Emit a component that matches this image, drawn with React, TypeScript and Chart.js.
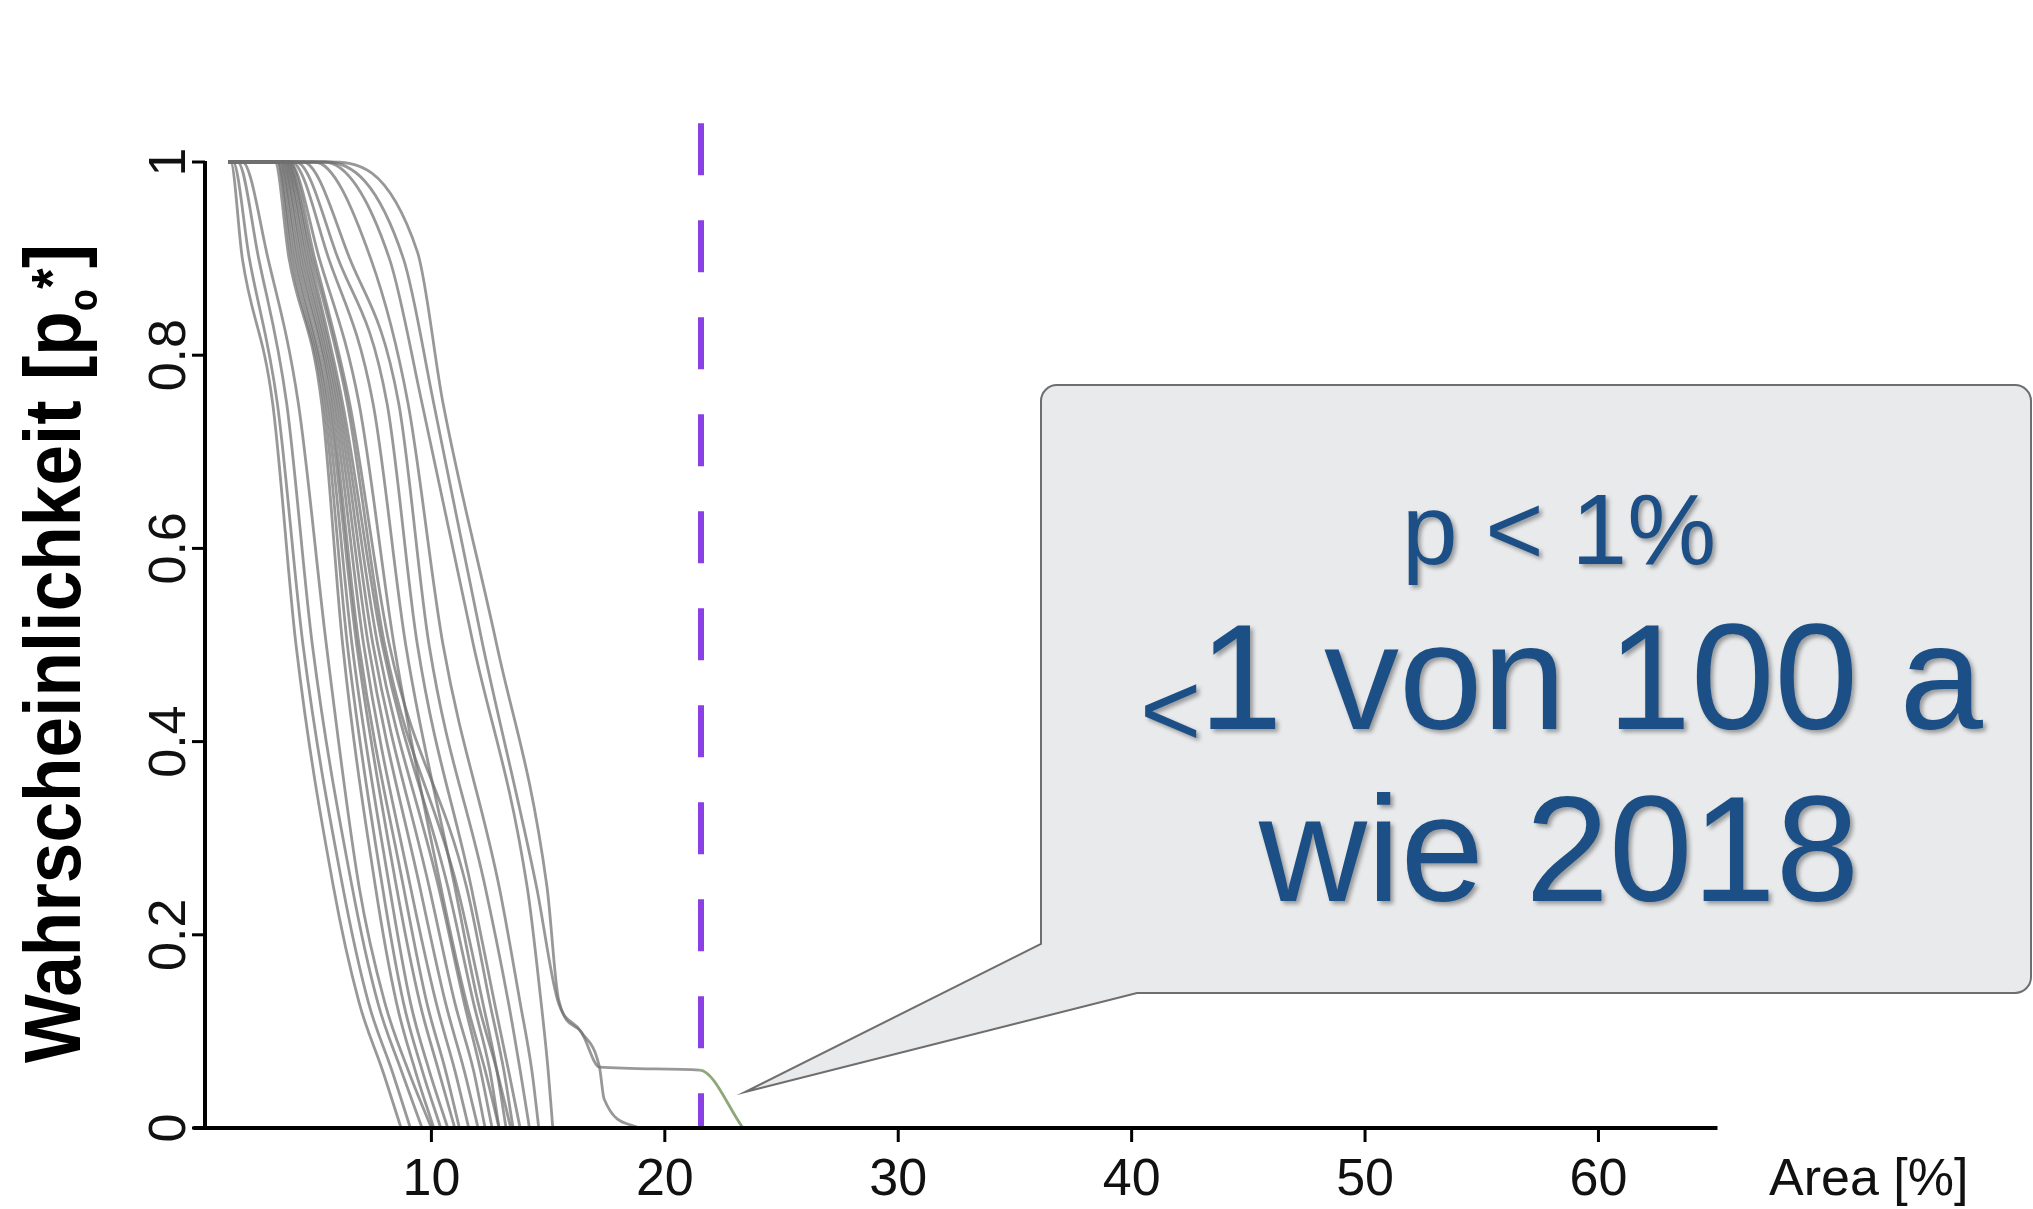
import React, { useEffect, useRef } from 'react';
import { Chart, registerables } from 'chart.js';

Chart.register(...registerables);

const W = 2033;
const H = 1209;

// axis ranges and ticks
const xMin = 0.3;
const xMax = 65.1;
const yMin = 0;
const yMax = 1.05;
const xTickValues = [10, 20, 30, 40, 50, 60];
const yTickValues = [0, 0.2, 0.4, 0.6, 0.8, 1];
const yTickLabels = ['0', '0.2', '0.4', '0.6', '0.8', '1'];
const xAxisTitle = 'Area [%]';
const yAxisTitleMain = 'Wahrscheinlichkeit [p';
const yAxisTitleSub = 'o';
const yAxisTitleSup = '*';
const yAxisTitleEnd = ']';

// probability levels shared by most curves
const yLevels = [1, 1, 0.9, 0.75, 0.5, 0.25, 0.13, 0.06, 0];
// area (%) at which each curve reaches the levels above
const curve01 = [1.3, 1.4, 1.9, 3.2, 4.2, 5.8, 6.9, 7.9, 8.7];
const curve02 = [1.3, 1.5, 2.2, 3.4, 4.5, 6.2, 7.3, 8.3, 9.1];
const curve03 = [1.3, 1.7, 2.6, 3.8, 4.9, 6.6, 7.7, 8.7, 9.6];
const curve04 = [1.3, 1.9, 3.0, 4.3, 5.5, 6.9, 8.0, 9.0, 10.0];
const curve05 = [1.3, 3.3, 3.9, 5.3, 6.2, 7.6, 8.5, 9.3, 10.1];
const curve06 = [1.3, 3.4, 4.0, 5.4, 6.4, 7.9, 8.8, 9.6, 10.4];
const curve07 = [1.3, 3.4, 4.1, 5.5, 6.6, 8.2, 9.1, 9.9, 10.7];
const curve08 = [1.3, 3.5, 4.2, 5.6, 6.8, 8.5, 9.5, 10.3, 11.0];
const curve09 = [1.3, 3.5, 4.3, 5.7, 6.9, 8.8, 9.8, 10.6, 11.2];
const curve10 = [1.3, 3.6, 4.4, 5.8, 7.1, 9.1, 10.2, 11.0, 11.6];
const curve11 = [1.3, 3.6, 4.5, 5.9, 7.3, 9.5, 10.6, 11.4, 12.0];
const curve12 = [1.3, 3.7, 4.6, 6.0, 7.5, 9.9, 11.0, 11.8, 12.3];
const curve13 = [1.3, 3.7, 4.7, 6.1, 7.7, 10.3, 11.4, 12.1, 12.6];
const curve14 = [1.3, 3.8, 4.8, 6.2, 7.9, 10.7, 11.8, 12.5, 12.9];
const curve15 = [1.3, 3.8, 4.9, 6.4, 8.0, 11.1, 12.2, 12.8, 13.2];
const curve16 = [1.3, 3.9, 5.0, 6.5, 8.2, 11.5, 12.5, 13.1, 13.5];
const curve17 = [1.3, 3.9, 5.2, 6.9, 8.4, 10.4, 11.5, 12.3, 12.9];
const curve18 = [1.3, 4.0, 5.6, 7.5, 8.9, 11.0, 12.0, 12.8, 13.4];
const curve19 = [1.3, 4.2, 6.0, 8.1, 9.4, 11.7, 12.7, 13.3, 13.8];
const curve20 = [1.3, 4.5, 6.5, 8.6, 9.9, 12.3, 13.3, 13.8, 14.2];
const curve21 = [1.3, 5.0, 7.4, 9.0, 10.5, 12.9, 13.8, 14.3, 14.6];
const curve22 = [1.3, 5.4, 8.2, 9.6, 11.8, 14.1, 14.7, 15.0, 15.2];
const regularCurves = [
  curve01, curve02, curve03, curve04, curve05, curve06, curve07, curve08,
  curve09, curve10, curve11, curve12, curve13, curve14, curve15, curve16,
  curve17, curve18, curve19, curve20, curve21, curve22,
];

// curve with a kink, ending near 19 %
const kinkX = [1.3, 5.5, 8.8, 10.1, 12.2, 14.5, 15.4, 16.4, 17.2, 17.4, 18.9];
const kinkY = [1, 1, 0.9, 0.75, 0.5, 0.25, 0.133, 0.1, 0.063, 0.03, 0];
// curve with the plateau, ending near 23 %
const plateauX = [1.3, 5.5, 9.4, 10.5, 12.8, 14.95, 15.45, 16.4, 17.2, 21.5, 23.35];
const plateauY = [1, 1, 0.907, 0.75, 0.5, 0.25, 0.133, 0.1, 0.063, 0.06, 0];

// 2018 threshold (dashed line)
const thresholdX = 21.55;
const thresholdY = [1.04, 0];

// callout text
const calloutLine1 = 'p < 1%';
const calloutLine2Prefix = '<';
const calloutLine2 = '1 von 100 a';
const calloutLine3 = 'wie 2018';

const GRAY = 'rgba(112,112,112,0.72)';
const FONT = '"Liberation Sans", Arial, Helvetica, sans-serif';

const overlayPlugin = {
  id: 'overlay',
  afterDatasetsDraw(chart: any) {
    const ctx: CanvasRenderingContext2D = chart.ctx;
    const xs = chart.scales.x;
    const ys = chart.scales.y;
    const y0 = ys.getPixelForValue(0);
    const y1 = ys.getPixelForValue(1);
    const xl = xs.getPixelForValue(xMin);

    ctx.save();
    // axis lines
    ctx.strokeStyle = '#000';
    ctx.lineCap = 'butt';
    ctx.lineWidth = 4;
    ctx.beginPath();
    ctx.moveTo(xs.getPixelForValue(-0.2), y0);
    ctx.lineTo(xs.getPixelForValue(xMax), y0);
    ctx.stroke();
    ctx.beginPath();
    ctx.moveTo(xl, y1 - 1);
    ctx.lineTo(xl, y0);
    ctx.stroke();

    // ticks
    ctx.lineWidth = 3;
    for (const v of xTickValues) {
      const px = xs.getPixelForValue(v);
      ctx.beginPath();
      ctx.moveTo(px, y0);
      ctx.lineTo(px, y0 + 14);
      ctx.stroke();
    }
    for (const v of yTickValues) {
      const py = ys.getPixelForValue(v);
      ctx.beginPath();
      ctx.moveTo(xl - 13, py);
      ctx.lineTo(xl, py);
      ctx.stroke();
    }

    // tick labels
    ctx.fillStyle = '#111';
    ctx.font = `52px ${FONT}`;
    ctx.textAlign = 'center';
    ctx.textBaseline = 'alphabetic';
    for (const v of xTickValues) {
      ctx.fillText(String(v), xs.getPixelForValue(v), 1195);
    }
    yTickValues.forEach((v, i) => {
      const py = ys.getPixelForValue(v);
      ctx.save();
      ctx.translate(185, py);
      ctx.rotate(-Math.PI / 2);
      ctx.fillText(yTickLabels[i], 0, 0);
      ctx.restore();
    });
    ctx.textAlign = 'left';
    ctx.fillText(xAxisTitle, 1769, 1195);

    // y-axis title with sub/superscript
    const base = 80;
    const parts = [
      { t: yAxisTitleMain, s: 1, dy: 0 },
      { t: yAxisTitleSub, s: 0.5, dy: 17 },
      { t: yAxisTitleSup, s: 0.72, dy: -8 },
      { t: yAxisTitleEnd, s: 1, dy: 0 },
    ];
    let total = 0;
    const widths: number[] = [];
    for (const p of parts) {
      ctx.font = `bold ${Math.round(base * p.s)}px ${FONT}`;
      const w = ctx.measureText(p.t).width;
      widths.push(w);
      total += w;
    }
    const k = 819 / total;
    ctx.save();
    ctx.translate(80, 1063);
    ctx.rotate(-Math.PI / 2);
    ctx.scale(k, 1);
    ctx.fillStyle = '#000';
    let cx = 0;
    parts.forEach((p, i) => {
      ctx.font = `bold ${Math.round(base * p.s)}px ${FONT}`;
      ctx.fillText(p.t, cx, p.dy);
      cx += widths[i];
    });
    ctx.restore();

    // callout bubble
    const L = 1041, T = 385, R = 2031, B = 993, r = 16;
    ctx.beginPath();
    ctx.moveTo(L + r, T);
    ctx.lineTo(R - r, T);
    ctx.arcTo(R, T, R, T + r, r);
    ctx.lineTo(R, B - r);
    ctx.arcTo(R, B, R - r, B, r);
    ctx.lineTo(1137, B);
    ctx.lineTo(745, 1092);
    ctx.lineTo(L, 944);
    ctx.lineTo(L, T + r);
    ctx.arcTo(L, T, L + r, T, r);
    ctx.closePath();
    ctx.fillStyle = '#e9eaec';
    ctx.fill();
    ctx.strokeStyle = '#6e6e6e';
    ctx.lineWidth = 2;
    ctx.stroke();

    ctx.shadowColor = 'rgba(0,0,0,0.35)';
    ctx.shadowOffsetX = 3;
    ctx.shadowOffsetY = 3;
    ctx.shadowBlur = 4;
    ctx.fillStyle = '#1b4f86';
    ctx.textBaseline = 'alphabetic';
    ctx.font = `100px ${FONT}`;
    ctx.textAlign = 'center';
    ctx.fillText(calloutLine1, 1559, 564);
    ctx.textAlign = 'left';
    ctx.font = `105px ${FONT}`;
    ctx.fillText(calloutLine2Prefix, 1140, 746);
    ctx.font = `150px ${FONT}`;
    ctx.fillText(calloutLine2, 1199, 729);
    ctx.textAlign = 'center';
    ctx.fillText(calloutLine3, 1559, 901);
    ctx.restore();
  },
};

export default function App() {
  const ref = useRef<HTMLCanvasElement | null>(null);

  useEffect(() => {
    const canvas = ref.current;
    if (!canvas) return;

    const lineStyle = {
      borderColor: GRAY,
      borderWidth: 2.8,
      pointRadius: 0,
      cubicInterpolationMode: 'monotone',
      fill: false,
    };
    const curveDatasets: any[] = regularCurves.map((xsArr) => ({
      ...lineStyle,
      data: xsArr.map((x, i) => ({ x, y: yLevels[i] })),
    }));
    curveDatasets.push({
      ...lineStyle,
      data: kinkX.map((x, i) => ({ x, y: kinkY[i] })),
    });
    curveDatasets.push({
      ...lineStyle,
      data: plateauX.map((x, i) => ({ x, y: plateauY[i] })),
      segment: {
        borderColor: (c: any) => (c.p0.parsed.x >= 21.4 ? 'rgba(130,158,105,0.9)' : undefined),
      },
    });

    const thresholdDataset = {
      data: thresholdY.map((y) => ({ x: thresholdX, y })),
      borderColor: '#8b40e6',
      borderWidth: 6,
      borderDash: [52, 45],
      pointRadius: 0,
      tension: 0,
      fill: false,
      order: -1,
    };

    const chart = new Chart(canvas, {
      type: 'line',
      data: { datasets: [thresholdDataset, ...curveDatasets] },
      options: {
        responsive: false,
        animation: false,
        events: [],
        layout: { padding: { left: 205, right: W - 1717.5, top: 113.7, bottom: H - 1128 } },
        plugins: { legend: { display: false }, tooltip: { enabled: false }, title: { display: false } },
        scales: {
          x: { type: 'linear', min: xMin, max: xMax, display: false },
          y: { type: 'linear', min: yMin, max: yMax, display: false },
        },
      },
      plugins: [overlayPlugin],
    } as any);

    return () => chart.destroy();
  }, []);

  return (
    <div style={{ position: 'fixed', left: 0, top: 0, width: W, height: H, background: '#fff' }}>
      <canvas ref={ref} width={W} height={H} style={{ width: W, height: H, display: 'block' }} />
    </div>
  );
}
